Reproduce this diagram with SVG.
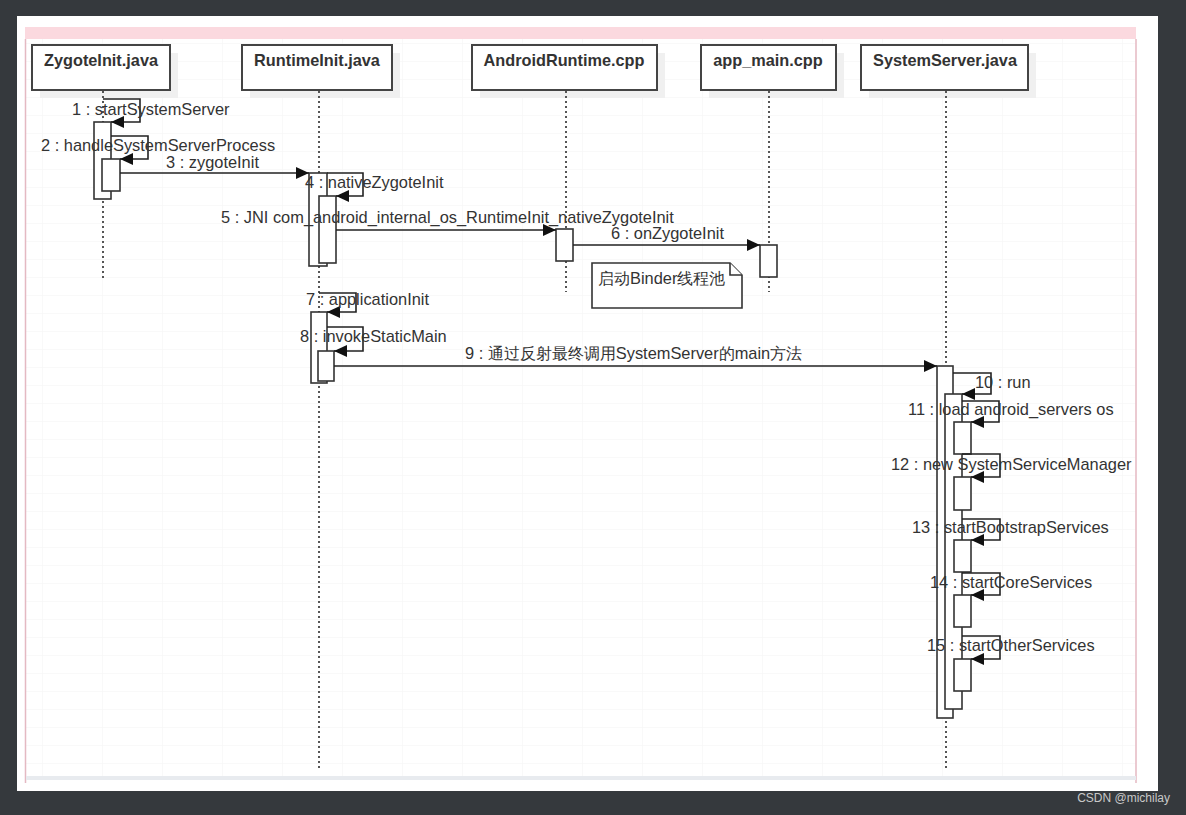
<svg xmlns="http://www.w3.org/2000/svg" width="1186" height="815" viewBox="0 0 1186 815">
<defs>
<marker id="ah" markerWidth="14" markerHeight="12" refX="13" refY="6" orient="auto" markerUnits="userSpaceOnUse">
<path d="M0,0 L13,6 L0,12 Z" fill="#111"/>
</marker>
<pattern id="grid" width="60" height="18" patternUnits="userSpaceOnUse" x="42" y="7">
<path d="M0,0 V18 M0,0 H60" fill="none" stroke="#f4f4f4" stroke-width="1"/>
</pattern>
<style>
.head{fill:#fff;stroke:#444;stroke-width:2}
.shadow{fill:#f0f0f0;stroke:none}
.ht{font-family:"Liberation Sans",Arial,sans-serif;font-weight:bold;font-size:16.3px;fill:#333;text-anchor:middle}
.life{stroke:#555;stroke-width:2;stroke-dasharray:2,3;fill:none}
.act{fill:#fff;stroke:#333;stroke-width:1.6}
.msg{fill:none;stroke:#222;stroke-width:1.6;marker-end:url(#ah)}
.lbl{font-family:"Liberation Sans",Arial,sans-serif;font-size:16.4px;fill:#333}
.note{fill:#fff;stroke:#333;stroke-width:1.6}
</style>
</defs>
<rect x="0" y="0" width="1186" height="815" fill="#35393d"/>
<rect x="17" y="16" width="1141" height="775" fill="#fff"/>
<rect x="26" y="39" width="1110" height="739" fill="url(#grid)"/>
<rect x="25" y="27" width="1111" height="12" fill="#fbd9df"/>
<line x1="25.5" y1="39" x2="25.5" y2="783" stroke="#e4b9c2" stroke-width="1.5"/>
<line x1="1136" y1="39" x2="1136" y2="783" stroke="#e4b9c2" stroke-width="1.5"/>
<rect x="26" y="776" width="1110" height="4" fill="#e8ebef"/>

<g id="ZygoteInit">
<rect class="shadow" x="40" y="53" width="138" height="45"/>
<rect class="head" x="32" y="45" width="138" height="45"/>
<text class="ht" x="101" y="66">ZygoteInit.java</text>
<line class="life" x1="103" y1="91" x2="103" y2="278"/>
<rect class="act" x="94" y="122" width="17" height="77"/>
<rect class="act" x="102" y="159" width="18" height="32"/>
</g>
<g id="RuntimeInit">
<rect class="shadow" x="250" y="53" width="150" height="45"/>
<rect class="head" x="242" y="45" width="150" height="45"/>
<text class="ht" x="317" y="66">RuntimeInit.java</text>
<line class="life" x1="319" y1="91" x2="319" y2="770"/>
<rect class="act" x="309" y="173" width="18" height="93"/>
<rect class="act" x="319" y="196" width="17" height="67"/>
<rect class="act" x="311" y="312" width="16" height="71"/>
<rect class="act" x="318" y="351" width="16" height="30"/>
</g>
<g id="AndroidRuntime">
<rect class="shadow" x="480" y="53" width="185" height="45"/>
<rect class="head" x="472" y="45" width="185" height="45"/>
<text class="ht" x="564" y="66">AndroidRuntime.cpp</text>
<line class="life" x1="566" y1="91" x2="566" y2="292"/>
<rect class="act" x="556" y="229" width="17" height="32"/>
</g>
<g id="app_main">
<rect class="shadow" x="709" y="53" width="135" height="45"/>
<rect class="head" x="701" y="45" width="135" height="45"/>
<text class="ht" x="768" y="66">app_main.cpp</text>
<line class="life" x1="769" y1="91" x2="769" y2="292"/>
<rect class="act" x="760" y="245" width="17" height="32"/>
</g>
<g id="SystemServer">
<rect class="shadow" x="869" y="53" width="167" height="45"/>
<rect class="head" x="861" y="45" width="167" height="45"/>
<text class="ht" x="945" y="66">SystemServer.java</text>
<line class="life" x1="946" y1="91" x2="946" y2="770"/>
<rect class="act" x="937" y="366" width="16" height="352"/>
<rect class="act" x="945" y="394" width="17" height="315"/>
<rect class="act" x="954" y="422" width="17" height="32"/>
<rect class="act" x="954" y="477" width="17" height="33"/>
<rect class="act" x="954" y="540" width="17" height="32"/>
<rect class="act" x="954" y="595" width="17" height="32"/>
<rect class="act" x="954" y="659" width="17" height="32"/>
</g>
<g id="note">
<path class="note" d="M592,263 H730 L742,275 V308 H592 Z"/>
<path class="note" d="M730,263 V275 H742" fill="none"/>
<text class="lbl" x="598" y="284" font-family="'Liberation Sans','Noto Sans CJK SC',sans-serif">启动Binder线程池</text>
</g>

<g id="connectors">
<path class="msg" d="M103,99 H140 V122 H111"/>
<path class="msg" d="M111,136 H148 V159 H120"/>
<path class="msg" d="M120,173 H309"/>
<path class="msg" d="M327,173 H363 V196 H336"/>
<path class="msg" d="M336,230 H556"/>
<path class="msg" d="M573,245 H760"/>
<path class="msg" d="M319,293 H356 V312 H327"/>
<path class="msg" d="M327,327 H363 V351 H334"/>
<path class="msg" d="M334,366 H937"/>
<path class="msg" d="M953,373 H991 V394 H962"/>
<path class="msg" d="M962,401 H999 V422 H971"/>
<path class="msg" d="M962,454 H1000 V477 H971"/>
<path class="msg" d="M962,519 H1000 V540 H971"/>
<path class="msg" d="M962,573 H1000 V595 H971"/>
<path class="msg" d="M962,636 H1000 V659 H971"/>
</g>

<g id="labels">
<text class="lbl" x="72" y="115">1 : startSystemServer</text>
<text class="lbl" x="41" y="151">2 : handleSystemServerProcess</text>
<text class="lbl" x="166" y="168">3 : zygoteInit</text>
<text class="lbl" x="305" y="188">4 : nativeZygoteInit</text>
<text class="lbl" x="221" y="223">5 : JNI com_android_internal_os_RuntimeInit_nativeZygoteInit</text>
<text class="lbl" x="611" y="239">6 : onZygoteInit</text>
<text class="lbl" x="306" y="305">7 : applicationInit</text>
<text class="lbl" x="300" y="342">8 : invokeStaticMain</text>
<text class="lbl" x="465" y="359" font-family="'Liberation Sans','Noto Sans CJK SC',sans-serif">9 : 通过反射最终调用SystemServer的main方法</text>
<text class="lbl" x="975" y="388">10 : run</text>
<text class="lbl" x="908" y="415">11 : load android_servers os</text>
<text class="lbl" x="891" y="470">12 : new SystemServiceManager</text>
<text class="lbl" x="912" y="533">13 : startBootstrapServices</text>
<text class="lbl" x="930" y="588">14 : startCoreServices</text>
<text class="lbl" x="927" y="651">15 : startOtherServices</text>
</g>
<text x="1170" y="802" font-family="'Liberation Sans',Arial,sans-serif" font-size="12" fill="#c8c8c8" text-anchor="end">CSDN @michilay</text>
</svg>
